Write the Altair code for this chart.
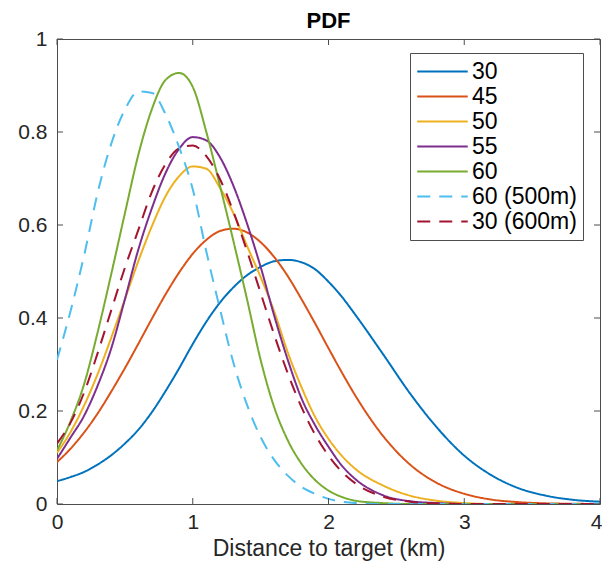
import altair as alt
import pandas as pd

# ---- data ----
x_km = [0.0, 0.1, 0.2, 0.3, 0.4, 0.5, 0.6, 0.7, 0.8, 0.9,
        1.0, 1.1, 1.2, 1.3, 1.4, 1.5, 1.6, 1.7, 1.8, 1.9,
        2.0, 2.1, 2.2, 2.4, 2.6, 2.8, 3.0, 3.2, 3.4, 3.6, 3.8, 4.0]

s30 = [0.049, 0.058, 0.069, 0.085, 0.105, 0.13, 0.16, 0.198, 0.243, 0.292,
       0.344, 0.392, 0.433, 0.466, 0.492, 0.51, 0.522, 0.525, 0.52, 0.505,
       0.478, 0.445, 0.406, 0.323, 0.238, 0.164, 0.104, 0.062, 0.034, 0.018, 0.009, 0.005]
s45 = [0.09, 0.119, 0.154, 0.195, 0.242, 0.292, 0.345, 0.399, 0.451, 0.498,
       0.538, 0.568, 0.587, 0.592, 0.584, 0.563, 0.531, 0.49, 0.441, 0.389,
       0.335, 0.282, 0.232, 0.147, 0.085, 0.045, 0.022, 0.0095, 0.004, 0.0014, 0.0005, 0.0]
s50 = [0.11, 0.155, 0.212, 0.28, 0.358, 0.44, 0.523, 0.598, 0.662, 0.705,
       0.726, 0.721, 0.68, 0.625, 0.555, 0.488, 0.414, 0.326, 0.252, 0.188,
       0.14, 0.103, 0.075, 0.04, 0.018, 0.007, 0.002, 0.0, 0.0, 0.0, 0.0, 0.0]
s55 = [0.097, 0.143, 0.19, 0.255, 0.335, 0.44, 0.548, 0.637, 0.712, 0.764,
       0.789, 0.782, 0.746, 0.684, 0.603, 0.51, 0.405, 0.31, 0.228, 0.17,
       0.123, 0.082, 0.053, 0.019, 0.006, 0.002, 0.0, 0.0, 0.0, 0.0, 0.0, 0.0]
s60 = [0.115, 0.178, 0.258, 0.37, 0.495, 0.625, 0.752, 0.85, 0.912, 0.927,
       0.897, 0.8, 0.685, 0.565, 0.44, 0.31, 0.208, 0.137, 0.087, 0.052,
       0.029, 0.015, 0.007, 0.002, 0.0, 0.0, 0.0, 0.0, 0.0, 0.0, 0.0, 0.0]
s60_500 = [0.31, 0.415, 0.535, 0.67, 0.775, 0.848, 0.887, 0.884, 0.838, 0.767,
           0.677, 0.543, 0.42, 0.303, 0.213, 0.144, 0.095, 0.061, 0.037, 0.022,
           0.011, 0.005, 0.002, 0.0, 0.0, 0.0, 0.0, 0.0, 0.0, 0.0, 0.0, 0.0]
s30_600 = [0.13, 0.175, 0.24, 0.325, 0.417, 0.508, 0.59, 0.672, 0.731, 0.765,
           0.771, 0.748, 0.699, 0.628, 0.544, 0.454, 0.364, 0.281, 0.209, 0.15,
           0.104, 0.069, 0.044, 0.016, 0.005, 0.001, 0.0, 0.0, 0.0, 0.0, 0.0, 0.0]

names = ["30", "45", "50", "55", "60", "60 (500m)", "30 (600m)"]
series_values = [s30, s45, s50, s55, s60, s60_500, s30_600]
colors = ["#0072BD", "#D95319", "#EDB120", "#7E2F8E", "#77AC30", "#4DBEEE", "#A2142F"]
dashes = [[1, 0], [1, 0], [1, 0], [1, 0], [1, 0], [13, 9], [13, 9]]

x_ticks = [0, 1, 2, 3, 4]
y_ticks = [0, 0.2, 0.4, 0.6, 0.8, 1]

rows = []
for name, vals in zip(names, series_values):
    for xv, yv in zip(x_km, vals):
        rows.append({"series": name, "x": xv, "y": yv})
df = pd.DataFrame(rows)

FONT = "Liberation Sans"
TXT = "#262626"
BOX = "#4d4d4d"
W, H = 543, 465

xscale = alt.Scale(domain=[0, 4], nice=False, zero=False)
yscale = alt.Scale(domain=[0, 1], nice=False, zero=False)
XTITLE = "Distance to target (km)"

xaxis = alt.Axis(values=x_ticks, format="d", ticks=False, domain=False, grid=False,
                 labelFlush=False, labelOverlap=False,
                 labelOffset=alt.condition("datum.value == 4", alt.value(-4), alt.value(0)),
                 labelFont=FONT, labelFontSize=21, labelColor=TXT, labelPadding=7,
                 titleFont=FONT, titleFontSize=23, titleFontWeight="normal",
                 titleColor=TXT, titlePadding=5)
yaxis = alt.Axis(values=y_ticks, format="~g", ticks=False, domain=False, grid=False,
                 labelFlush=False, labelOverlap=False,
                 labelFont=FONT, labelFontSize=21, labelColor=TXT, labelPadding=10)

legend = alt.Legend(
    title=None, orient="none", legendX=353, legendY=14,
    symbolType="stroke", symbolSize=2550, symbolStrokeWidth=2,
    labelFont=FONT, labelFontSize=23, labelColor="black", labelOffset=3,
    clipHeight=25, rowPadding=0, padding=6, strokeColor=BOX, fillColor="white",
)

lines = alt.Chart(df).mark_line(strokeWidth=2, interpolate="monotone", clip=True).encode(
    x=alt.X("x:Q", scale=xscale, title=XTITLE, axis=xaxis),
    y=alt.Y("y:Q", scale=yscale, title=None, axis=yaxis),
    color=alt.Color("series:N", scale=alt.Scale(domain=names, range=colors), sort=names, legend=legend),
    strokeDash=alt.StrokeDash("series:N", scale=alt.Scale(domain=names, range=dashes), sort=names, legend=legend),
    order=alt.Order("series:N"),
)

xt = pd.DataFrame({"x": x_ticks})
yt = pd.DataFrame({"y": y_ticks})
tick_bottom = alt.Chart(xt).mark_rule(color=BOX, strokeWidth=1).encode(
    x=alt.X("x:Q", scale=xscale, title=XTITLE, axis=xaxis), y=alt.value(H), y2=alt.value(H - 6))
tick_top = alt.Chart(xt).mark_rule(color=BOX, strokeWidth=1).encode(
    x=alt.X("x:Q", scale=xscale, title=XTITLE, axis=xaxis), y=alt.value(0), y2=alt.value(6))
tick_left = alt.Chart(yt).mark_rule(color=BOX, strokeWidth=1).encode(
    y=alt.Y("y:Q", scale=yscale, title=None, axis=yaxis), x=alt.value(0), x2=alt.value(6))
tick_right = alt.Chart(yt).mark_rule(color=BOX, strokeWidth=1).encode(
    y=alt.Y("y:Q", scale=yscale, title=None, axis=yaxis), x=alt.value(W), x2=alt.value(W - 6))

chart = alt.layer(lines, tick_bottom, tick_top, tick_left, tick_right).properties(
    width=W, height=H,
    title=alt.TitleParams("PDF", font=FONT, fontSize=22, fontWeight="bold", color="black",
                          anchor="middle", offset=10, dy=15),
    padding={"left": 49, "top": 31, "right": 2, "bottom": 58},
    autosize=alt.AutoSizeParams(type="none"),
).configure_view(stroke=BOX, strokeWidth=1)

chart.save("out.html", embed_options={"renderer": "svg", "actions": False})
